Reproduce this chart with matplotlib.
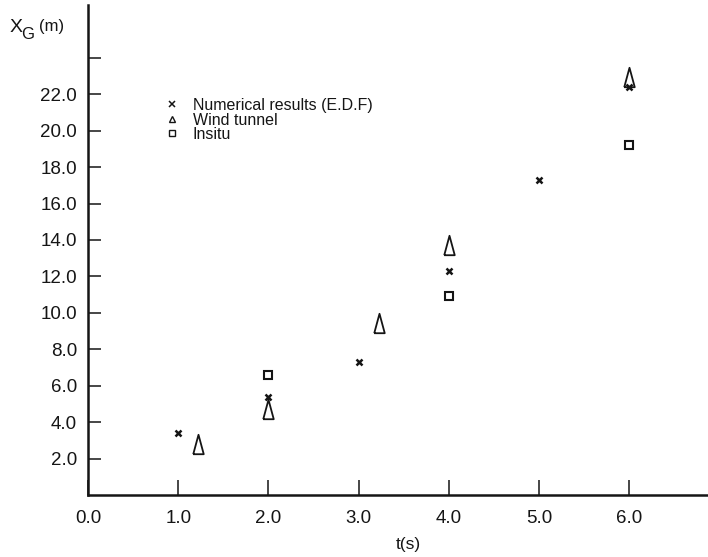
import matplotlib
matplotlib.use("Agg")
import matplotlib.pyplot as plt
from matplotlib.lines import Line2D

plt.rcParams['font.family'] = ['Liberation Sans', 'DejaVu Sans']

# numerical results (E.D.F)
t_num = [1.0, 2.0, 3.0, 4.0, 5.0, 6.0]
x_num = [3.4, 5.4, 7.3, 12.3, 17.3, 22.4]
# wind tunnel
t_wind = [1.22, 2.0, 3.23, 4.0, 6.0]
x_wind = [2.8, 4.7, 9.45, 13.75, 22.95]
# insitu
t_insitu = [2.0, 4.0, 6.0]
x_insitu = [6.6, 10.9, 19.2]

yticks = [2, 4, 6, 8, 10, 12, 14, 16, 18, 20, 22, 24]
ytick_labels = ["2.0", "4.0", "6.0", "8.0", "10.0", "12.0", "14.0",
                "16.0", "18.0", "20.0", "22.0", ""]
xticks = [0, 1, 2, 3, 4, 5, 6]
xtick_labels = ["0.0", "1.0", "2.0", "3.0", "4.0", "5.0", "6.0"]

ink = "#151515"
W, H = 708, 557

fig = plt.figure(figsize=(W / 100, H / 100), dpi=100)
ax = fig.add_axes([88 / W, 1 - 495 / H, 1 - 88 / W, (495 - 5) / H])

# tall narrow triangle like a hand drawn delta
tri = [(-0.27, -0.5), (0.27, -0.5), (0.0, 0.5), (-0.27, -0.5)]

ax.plot(t_num, x_num, linestyle="none", marker="x", markersize=5,
        markeredgewidth=1.8, color=ink)
ax.plot(t_wind, x_wind, linestyle="none", marker=tri, markersize=14,
        markerfacecolor="none", markeredgewidth=1.3, color=ink)
ax.plot(t_insitu, x_insitu, linestyle="none", marker="s", markersize=6,
        markerfacecolor="none", markeredgewidth=1.5, color=ink)

ax.set_xlim(0, 6.87)
ax.set_ylim(0, 26.9)

for side in ["top", "right"]:
    ax.spines[side].set_visible(False)
for side in ["left", "bottom"]:
    ax.spines[side].set_linewidth(1.8)
    ax.spines[side].set_color(ink)

ax.set_yticks(yticks)
ax.set_yticklabels(ytick_labels)
ax.set_xticks(xticks)
ax.set_xticklabels(xtick_labels)
ax.tick_params(axis="y", direction="in", length=9.5, width=1.1, pad=8,
               labelsize=13.5, colors=ink)
ax.tick_params(axis="x", direction="in", length=10.5, width=1.1, pad=11,
               labelsize=13.5, colors=ink)

# axis titles
fig.text(10 / W, 1 - 32 / H, "X", fontsize=14, color=ink, va="baseline")
fig.text(21.5 / W, 1 - 39 / H, "G", fontsize=12, color=ink, va="baseline")
fig.text(39 / W, 1 - 31 / H, "(m)", fontsize=12, color=ink, va="baseline")
fig.text(408 / W, 1 - 545 / H, "t(s)", fontsize=12.5, color=ink,
         ha="center", va="center")

handles = [
    Line2D([], [], linestyle="none", marker="x", markersize=4,
           markeredgewidth=1.1, color=ink),
    Line2D([], [], linestyle="none", marker="^", markersize=4.5,
           markerfacecolor="none", markeredgewidth=1.0, color=ink),
    Line2D([], [], linestyle="none", marker="s", markersize=4.5,
           markerfacecolor="none", markeredgewidth=1.0, color=ink),
]
labels = ["Numerical results (E.D.F)", "Wind tunnel", "Insitu"]
leg = ax.legend(handles, labels, loc="upper left",
                bbox_to_anchor=(164 / W, 1 - 98 / H),
                bbox_transform=fig.transFigure, frameon=False,
                fontsize=11.5, handlelength=1.05, handletextpad=0.75,
                labelspacing=-0.03, borderpad=0, borderaxespad=0)
for txt in leg.get_texts():
    txt.set_color(ink)

fig.savefig("out.png", dpi=100)
